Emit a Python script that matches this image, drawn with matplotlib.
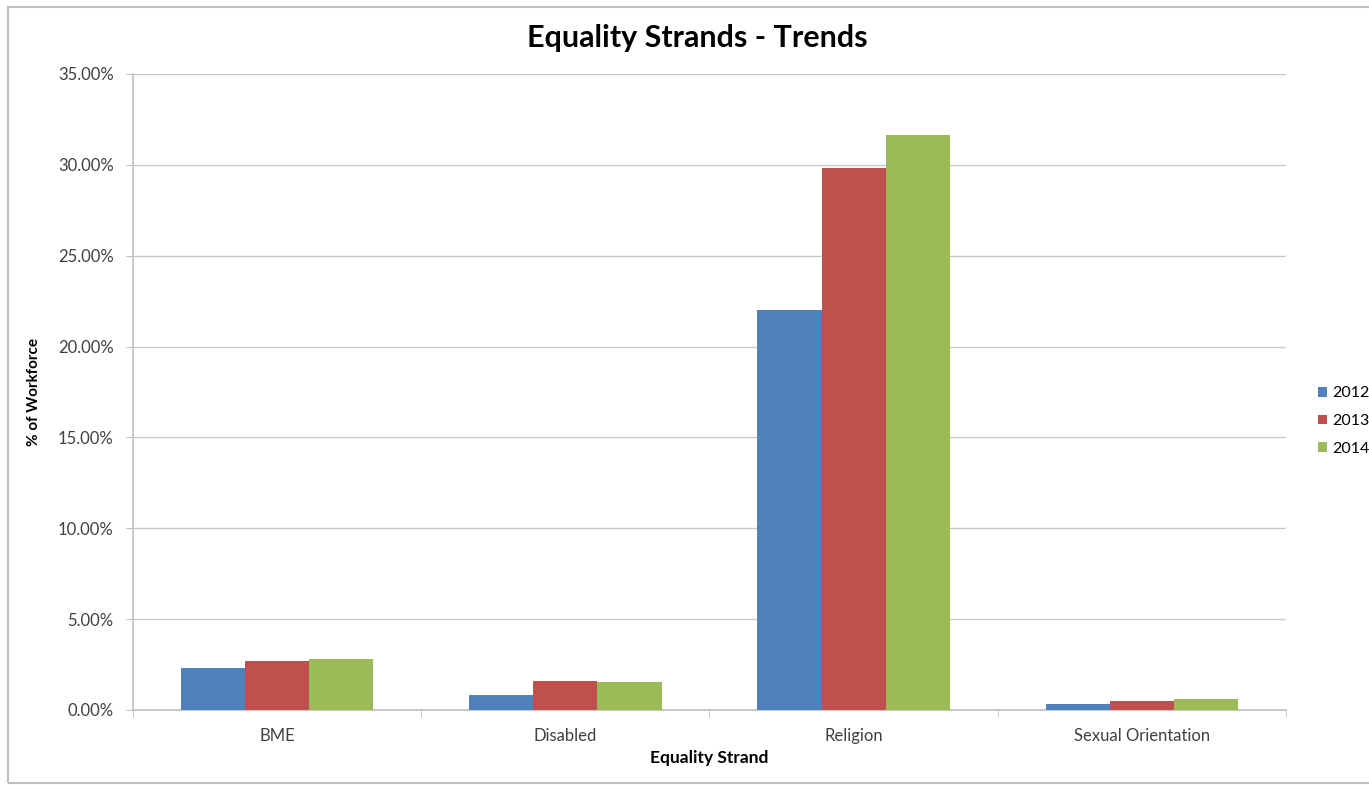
import numpy as np
import matplotlib
matplotlib.use('Agg')
from matplotlib import pyplot as plt
from matplotlib.patches import Rectangle
from matplotlib.ticker import FuncFormatter, FixedLocator

categories = ['BME', 'Disabled', 'Religion', 'Sexual Orientation']
years = ['2012', '2013', '2014']
vals_2012 = [2.31, 0.83, 22.0, 0.33]
vals_2013 = [2.70, 1.60, 29.8, 0.50]
vals_2014 = [2.81, 1.54, 31.66, 0.62]
colors = ['#4F81BD', '#C0504D', '#9BBB59']

plt.rcParams['font.family'] = ['Lato', 'DejaVu Sans']

W, H = 1369, 785
fig = plt.figure(figsize=(W / 100, H / 100), dpi=100)
ax = fig.add_axes([133 / W, 1 - 710 / H, (1286 - 133) / W, (710 - 74) / H])

# outer chart frame
fig.patches.append(Rectangle((8 / W, 2 / H), 1.2, (776 / H), transform=fig.transFigure,
                             fill=False, edgecolor='#BFBFBF', linewidth=1.5))

x = np.arange(len(categories))
bw = 0.2225
series = [vals_2012, vals_2013, vals_2014]
for i, (vals, c, yr) in enumerate(zip(series, colors, years)):
	ax.bar(x + (i - 1) * bw, vals, bw, color=c, label=yr, zorder=3)

ax.set_xlim(-0.5, len(categories) - 0.5)
ax.set_ylim(0, 35)
ax.set_yticks(np.arange(0, 35.1, 5))
ax.yaxis.set_major_formatter(FuncFormatter(lambda v, p: '%.2f%%' % v))
ax.grid(axis='y', color='#C8C8C8', linewidth=1, zorder=0)

ax.set_xticks(x)
ax.set_xticklabels(categories)
ax.xaxis.set_minor_locator(FixedLocator(np.arange(-0.5, len(categories), 1)))
ax.tick_params(axis='x', which='major', length=0, pad=13, labelsize=12, colors='#404040')
ax.tick_params(axis='x', which='minor', length=5, color='#BFBFBF', direction='out')
ax.tick_params(axis='y', length=5, color='#BFBFBF', pad=9, labelsize=12, labelcolor='#404040')

for s in ['top', 'right']:
	ax.spines[s].set_visible(False)
for s in ['left', 'bottom']:
	ax.spines[s].set_color('#BFBFBF')
	ax.spines[s].set_linewidth(1.2)

ax.set_ylabel('% of Workforce', fontsize=11, fontweight='bold', labelpad=12)
ax.set_xlabel('Equality Strand', fontsize=12.5, fontweight='bold', labelpad=4)

fig.text(697 / W, 1 - 38 / H, 'Equality Strands - Trends', ha='center', va='center',
         fontsize=22, fontweight='bold')

ax.legend(loc='center left', bbox_to_anchor=(1.0225, 1 - (421 - 74) / 636), frameon=False,
          fontsize=11.5, handlelength=0.55, handleheight=0.55, handletextpad=0.3,
          labelspacing=0.85, borderaxespad=0)

fig.savefig('out.png', dpi=100)
